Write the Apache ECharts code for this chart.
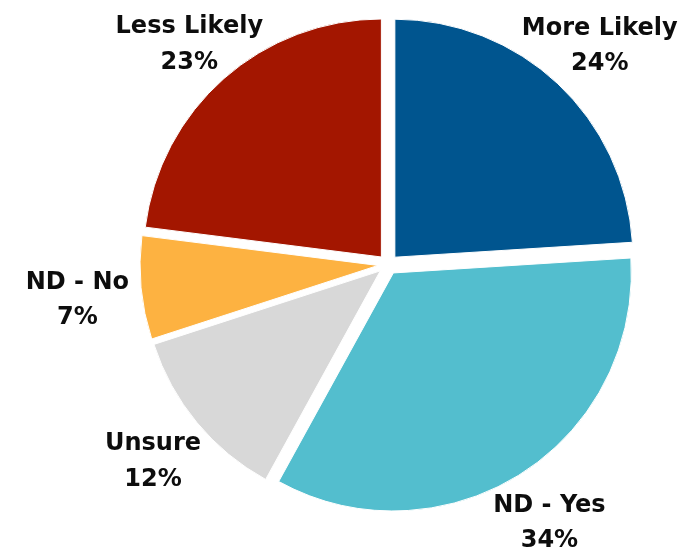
<!DOCTYPE html>
<html>
<head>
<meta charset="utf-8">
<script src="https://cdn.jsdelivr.net/npm/echarts@6/dist/echarts.min.js"></script>
<style>
html,body{margin:0;padding:0;background:#fff;}
#chart{width:691px;height:554px;}
</style>
</head>
<body>
<div id="chart"></div>
<script>
const categories = ['More Likely', 'ND - Yes', 'Unsure', 'ND - No', 'Less Likely'];
const values = [24, 34, 12, 7, 23];
const colors = ['#00558F', '#53BECE', '#D8D8D8', '#FDB241', '#A31600'];

// small hand nudges of the label blocks (px), by slice index
const labelNudgeX = [3, -2, 0, -7, 3];
const labelNudgeY = [4, 1, 3, 7, 9];

const chart = echarts.init(document.getElementById('chart'), null, {renderer: 'canvas'});
const center = [388, 264.5];

const sliceData = categories.map((name, i) => ({
  name: name,
  value: values[i],
  selected: true,
  itemStyle: {color: colors[i]}
}));
const labelData = categories.map((name, i) => ({name: name, value: values[i]}));

chart.setOption({
  animation: false,
  backgroundColor: '#ffffff',
  series: [
    {
      type: 'pie',
      center: center,
      radius: 238,
      startAngle: 90,
      clockwise: true,
      selectedMode: 'multiple',
      selectedOffset: 10,
      silent: true,
      label: {show: false},
      labelLine: {show: false},
      emphasis: {disabled: true},
      itemStyle: {borderColor: '#ffffff', borderWidth: 1},
      data: sliceData
    },
    {
      type: 'pie',
      center: center,
      radius: [0, 604],
      startAngle: 90,
      clockwise: true,
      silent: true,
      itemStyle: {color: 'rgba(0,0,0,0)'},
      emphasis: {disabled: true},
      labelLine: {show: false},
      label: {
        show: true,
        position: 'inside',
        rotate: 0,
        formatter: '{b}\n{c}%',
        fontFamily: 'DejaVu Sans',
        fontWeight: 'bold',
        fontSize: 24,
        lineHeight: 35.5,
        color: '#0d0d0d',
        align: 'center'
      },
      labelLayout: function (params) {
        return {dx: labelNudgeX[params.dataIndex], dy: labelNudgeY[params.dataIndex]};
      },
      data: labelData
    }
  ]
});
</script>
</body>
</html>
